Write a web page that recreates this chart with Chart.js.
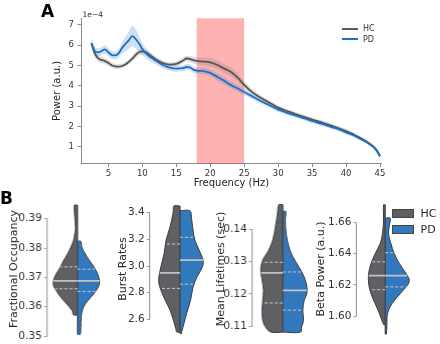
<!DOCTYPE html>
<html><head><meta charset="utf-8">
<script src="https://cdn.jsdelivr.net/npm/chart.js@4.4.1/dist/chart.umd.min.js"></script>
<style>
html,body{margin:0;padding:0;background:#fff;}
body{width:440px;height:344px;position:relative;overflow:hidden;font-family:"DejaVu Sans",sans-serif;color:#262626;}
canvas{position:absolute;display:block;}
.t{position:absolute;white-space:nowrap;line-height:1;}
.sw{position:absolute;}
</style></head><body>
<canvas id="cA" width="440" height="200" style="left:0;top:0;width:440px;height:200px"></canvas>
<canvas id="cV1"></canvas>
<canvas id="cV2"></canvas>
<canvas id="cV3"></canvas>
<canvas id="cV4"></canvas>
<div class="t" style="left:41px;top:3px;font-size:17px;font-weight:bold;color:#000">A</div>
<div class="t" style="left:0px;top:189.5px;font-size:17px;font-weight:bold;color:#000">B</div>
<div class="t" style="left:82.5px;top:11.4px;font-size:7.5px;color:#333">1e−4</div>
<div class="sw" style="left:342px;top:28px;width:16px;height:2px;background:#5a5a5a"></div>
<div class="t" style="left:363px;top:25.2px;font-size:8px;color:#333">HC</div>
<div class="sw" style="left:342px;top:38px;width:16px;height:2px;background:#1f6fc2"></div>
<div class="t" style="left:363px;top:35.5px;font-size:8px;color:#333">PD</div>
<div class="sw" style="left:392px;top:209px;width:22px;height:9px;background:#5f6064;border:0.5px solid #444;box-sizing:border-box"></div>
<div class="t" style="left:420.5px;top:208px;font-size:11px;color:#262626">HC</div>
<div class="sw" style="left:392px;top:224.5px;width:22px;height:9px;background:#3278bd;border:0.5px solid #444;box-sizing:border-box"></div>
<div class="t" style="left:420.5px;top:223.7px;font-size:11px;color:#262626">PD</div>
<script>
// ---------- Panel A data ----------
const freqHz = [2.5,3,3.5,4,4.5,5,5.5,6,6.5,7,7.5,8,8.5,9,9.5,10,10.5,11,11.5,12,13,14,15,16,16.5,17,17.5,18,19,20,21,22,23,24,25,26,27,28,29,30,31,32,33,34,35,36,37,38,39,40,41,42,43,44,44.5,45];
const hcPower = [6.10,5.60,5.36,5.28,5.22,5.13,5.02,4.96,4.95,4.98,5.05,5.18,5.33,5.52,5.66,5.70,5.66,5.55,5.42,5.30,5.12,5.05,5.08,5.25,5.35,5.33,5.27,5.23,5.20,5.16,5.04,4.86,4.70,4.42,4.05,3.74,3.50,3.30,3.12,2.93,2.80,2.68,2.56,2.45,2.34,2.24,2.13,2.02,1.90,1.77,1.63,1.45,1.26,1.02,0.84,0.56];
const pdPower = [6.10,5.72,5.65,5.72,5.80,5.66,5.52,5.50,5.60,5.86,6.06,6.24,6.45,6.32,6.10,5.82,5.62,5.46,5.35,5.24,5.03,4.90,4.85,4.87,4.93,4.91,4.80,4.75,4.73,4.64,4.45,4.26,4.05,3.88,3.70,3.52,3.33,3.16,3.00,2.83,2.71,2.60,2.49,2.38,2.27,2.17,2.07,1.96,1.85,1.71,1.58,1.41,1.23,0.99,0.80,0.52];
const hcSem = [0.22,0.2,0.16,0.15,0.15,0.14,0.13,0.12,0.12,0.12,0.12,0.13,0.14,0.15,0.15,0.15,0.15,0.14,0.13,0.12,0.12,0.12,0.12,0.13,0.14,0.15,0.17,0.18,0.2,0.22,0.22,0.22,0.22,0.2,0.18,0.15,0.13,0.12,0.11,0.1,0.1,0.1,0.1,0.1,0.1,0.1,0.1,0.1,0.1,0.1,0.09,0.08,0.08,0.07,0.07,0.06];
const pdSem = [0.3,0.22,0.2,0.2,0.22,0.2,0.2,0.2,0.22,0.28,0.36,0.44,0.5,0.48,0.4,0.3,0.25,0.22,0.2,0.18,0.17,0.15,0.15,0.15,0.15,0.15,0.15,0.15,0.16,0.17,0.18,0.18,0.18,0.17,0.16,0.14,0.13,0.12,0.12,0.12,0.11,0.11,0.11,0.11,0.11,0.11,0.11,0.11,0.11,0.11,0.1,0.09,0.08,0.08,0.07,0.06];
const freqTicks = [5,10,15,20,25,30,35,40,45];
const powerTicks = [1,2,3,4,5,6,7];
const betaBand = [18,25];
const groupLabels = ['HC','PD'];

// ---------- Panel B data ----------
const v1HcVals = [0.3946,0.3906,0.3871,0.3849,0.3826,0.3803,0.3780,0.3757,0.3734,0.3712,0.3689,0.3672,0.3655,0.3632,0.3609,0.3586,0.3572];
const v1HcWidths = [3.0,2.7,2.0,2.7,4.0,6.7,10,14,17.3,21.3,24,24,21.3,16.7,10.7,5.3,4];
const v1PdVals = [0.3823,0.3803,0.3780,0.3757,0.3734,0.3712,0.3689,0.3672,0.3655,0.3632,0.3609,0.3586,0.3563,0.3529,0.3506];
const v1PdWidths = [3.3,4.3,7.7,12,16.7,20,22,21.3,18.7,13.3,7.7,4.7,3.7,3.3,2.7];
const v1HcQuart = [0.3661,0.3688,0.3736];
const v1PdQuart = [0.3652,0.3688,0.3728];
const v1Ticks = [0.35,0.36,0.37,0.38,0.39];
const v1TickLabels = ['0.35','0.36','0.37','0.38','0.39'];

const v2HcVals = [3.450,3.396,3.295,3.195,3.095,2.994,2.919,2.869,2.819,2.744,2.668,2.593,2.531,2.505];
const v2HcWidths = [6,7,10,14,16,19.3,21.3,21.3,19.3,15,10,6.7,4.3,3.3];
const v2PdVals = [3.415,3.370,3.295,3.195,3.120,3.044,2.994,2.919,2.844,2.744,2.644,2.568,2.505,2.493];
const v2PdWidths = [10,11.5,12.7,15,19.3,23.3,22.7,17.3,13.3,10.7,6.7,4,1.7,1.5];
const v2HcQuart = [2.832,2.949,3.165];
const v2PdQuart = [2.864,3.044,3.215];
const v2Ticks = [2.6,2.8,3.0,3.2,3.4];
const v2TickLabels = ['2.6','2.8','3.0','3.2','3.4'];

const v3HcVals = [0.1476,0.1450,0.1408,0.1367,0.1336,0.1305,0.1274,0.1243,0.1212,0.1180,0.1149,0.1118,0.1098,0.1082];
const v3HcWidths = [4,5.3,7.3,10,14,20,22,20.7,19.3,20,20.7,20,17.3,12];
const v3PdVals = [0.1455,0.1429,0.1388,0.1346,0.1315,0.1284,0.1253,0.1222,0.1201,0.1180,0.1149,0.1118,0.1098,0.1082];
const v3PdWidths = [3,2.5,3.3,6,10,16,21.3,24,24,21.3,20,20.7,18.7,17.7];
const v3HcQuart = [0.1172,0.1265,0.1298];
const v3PdQuart = [0.1150,0.1211,0.1268];
const v3Ticks = [0.11,0.12,0.13,0.14];
const v3TickLabels = ['0.11','0.12','0.13','0.14'];

const v4HcVals = [1.6711,1.6615,1.6529,1.6465,1.6401,1.6336,1.6272,1.6208,1.6143,1.6079,1.6015,1.5972,1.5946];
const v4HcWidths = [1.7,1.7,2.7,5,10,14.3,16.7,16.7,14.3,10,5.7,3.3,1.5];
const v4PdVals = [1.6626,1.6583,1.6529,1.6465,1.6401,1.6336,1.6272,1.6229,1.6197,1.6143,1.6079,1.6015,1.5951,1.5886];
const v4PdWidths = [5,4.3,3.3,5.7,9,14.3,21,24.3,22.3,15,6.7,2.3,1.7,1.2];
const v4HcQuart = [1.6169,1.6259,1.6347];
const v4PdQuart = [1.6187,1.6259,1.6405];
const v4Ticks = [1.60,1.62,1.64,1.66];
const v4TickLabels = ['1.60','1.62','1.64','1.66'];

// ---------- styles ----------
Chart.defaults.font.family = '"DejaVu Sans", sans-serif';
Chart.defaults.color = '#262626';
const HC_LINE = '#555555', PD_LINE = '#1f6fc2';
const HC_FILL = '#5f6064', PD_FILL = '#3278bd', EDGE = '#3a3a3a';
const SPINE = '#8c8c8c';

const spanPlugin = {
  id: 'betaSpan',
  beforeDatasetsDraw(chart) {
    const {ctx, chartArea: a, scales: {x}} = chart;
    const x1 = x.getPixelForValue(betaBand[0]), x2 = x.getPixelForValue(betaBand[1]);
    ctx.save();
    ctx.fillStyle = 'rgba(255,0,0,0.3)';
    ctx.fillRect(x1, a.top, x2 - x1, a.bottom - a.top);
    ctx.restore();
  }
};

const pts = (ys) => freqHz.map((f, i) => ({x: f, y: ys[i]}));
const hcUp = hcPower.map((v, i) => v + hcSem[i]);
const hcLo = hcPower.map((v, i) => v - hcSem[i]);
const pdUp = pdPower.map((v, i) => v + pdSem[i]);
const pdLo = pdPower.map((v, i) => v - pdSem[i]);
const noLine = {borderWidth: 0, borderColor: 'rgba(0,0,0,0)', pointRadius: 0};

new Chart(document.getElementById('cA'), {
  type: 'line',
  data: {datasets: [
    Object.assign({data: pts(hcUp), fill: '+1', backgroundColor: 'rgba(120,120,120,0.25)', order: 3}, noLine),
    Object.assign({data: pts(hcLo), fill: false, order: 3}, noLine),
    Object.assign({data: pts(pdUp), fill: '+1', backgroundColor: 'rgba(45,125,205,0.23)', order: 2}, noLine),
    Object.assign({data: pts(pdLo), fill: false, order: 2}, noLine),
    {label: groupLabels[0], data: pts(hcPower), borderColor: HC_LINE, borderWidth: 1.8, pointRadius: 0, fill: false, order: 1},
    {label: groupLabels[1], data: pts(pdPower), borderColor: PD_LINE, borderWidth: 1.8, pointRadius: 0, fill: false, order: 0}
  ]},
  options: {
    responsive: false, animation: false,
    layout: {padding: {left: 0, right: 58.3, top: 18.3, bottom: 6.4}},
    plugins: {legend: {display: false}, tooltip: {enabled: false}},
    elements: {line: {cubicInterpolationMode: 'monotone'}, point: {radius: 0}},
    scales: {
      x: {
        type: 'linear', min: 0.97, max: 45.25,
        afterBuildTicks: s => { s.ticks = freqTicks.map(v => ({value: v})); },
        afterFit: s => { s.height = 30; },
        grid: {display: true, drawOnChartArea: false, drawTicks: true, tickLength: 3.5, color: SPINE},
        border: {display: true, color: SPINE, width: 1},
        ticks: {font: {size: 8.5}, padding: 2, maxRotation: 0, color: '#333', autoSkip: false},
        title: {display: true, text: 'Frequency (Hz)', font: {size: 10}, padding: {top: 0, bottom: 4.3}, color: '#262626'}
      },
      y: {
        type: 'linear', min: 0.17, max: 7.33,
        afterBuildTicks: s => { s.ticks = powerTicks.map(v => ({value: v})); },
        afterFit: s => { s.width = 81; },
        grid: {display: true, drawOnChartArea: false, drawTicks: true, tickLength: 3.5, color: SPINE},
        border: {display: true, color: SPINE, width: 1},
        ticks: {font: {size: 8.5}, padding: 3.5, color: '#333'},
        title: {display: true, text: 'Power (a.u.)', font: {size: 10}, padding: {top: 51, bottom: 0}, color: '#262626'}
      }
    }
  },
  plugins: [spanPlugin]
});

// ---------- violins ----------
function widthAt(vals, widths, q) {
  for (let i = 0; i < vals.length - 1; i++) {
    const a = vals[i], b = vals[i + 1];
    if (q <= a && q >= b) { const t = (a - q) / (a - b); return widths[i] + t * (widths[i + 1] - widths[i]); }
  }
  return 0;
}
const trimSpine = {
  id: 'trimSpine',
  afterDraw(chart) {
    const {ctx, chartArea: a, scales: {y}} = chart;
    const t = y.ticks;
    const p1 = y.getPixelForValue(t[0].value), p2 = y.getPixelForValue(t[t.length - 1].value);
    ctx.save();
    ctx.strokeStyle = '#a0a0a0'; ctx.lineWidth = 1.2;
    ctx.beginPath(); ctx.moveTo(a.left, p1); ctx.lineTo(a.left, p2); ctx.stroke();
    ctx.restore();
  }
};
function violin(id, o) {
  const cv = document.getElementById(id);
  const W = o.axisW, cw = W + 60, ch = 158;
  cv.width = cw; cv.height = ch;
  cv.style.left = (o.axisX - W) + 'px'; cv.style.top = '190px';
  cv.style.width = cw + 'px'; cv.style.height = ch + 'px';
  const half = (vals, widths, sign) => [{x: 0, y: vals[0]}].concat(vals.map((v, i) => ({x: sign * widths[i], y: v})), [{x: 0, y: vals[vals.length - 1]}]);
  const qLines = (vals, widths, quart, sign) => quart.map((q, k) => ({
    data: [{x: 0, y: q}, {x: sign * widthAt(vals, widths, q), y: q}],
    borderColor: k === 1 ? '#c2c2c2' : '#c9c9c9', borderWidth: k === 1 ? 1.8 : 1,
    borderDash: k === 1 ? [] : [3, 2], pointRadius: 0, fill: false, order: 0, tension: 0
  }));
  const top = Math.max(o.hcV[0], o.pdV[0]);
  const bot = Math.min(o.hcV[o.hcV.length - 1], o.pdV[o.pdV.length - 1]);
  const datasets = [].concat(
    qLines(o.hcV, o.hcW, o.hcQ, -1),
    qLines(o.pdV, o.pdW, o.pdQ, 1),
    [{data: [{x: 0, y: top}, {x: 0, y: bot}], borderColor: EDGE, borderWidth: 1.1, pointRadius: 0, fill: false, order: 1, tension: 0}],
    [{label: groupLabels[0], data: half(o.hcV, o.hcW, -1), fill: 'shape', backgroundColor: HC_FILL, borderColor: EDGE, borderWidth: 1, pointRadius: 0, tension: 0.35, order: 2}],
    [{label: groupLabels[1], data: half(o.pdV, o.pdW, 1), fill: 'shape', backgroundColor: PD_FILL, borderColor: EDGE, borderWidth: 1, pointRadius: 0, tension: 0.35, order: 2}]
  );
  new Chart(cv, {
    type: 'line',
    data: {datasets},
    options: {
      responsive: false, animation: false,
      layout: {padding: {left: 0, right: 0, top: 10, bottom: 10}},
      plugins: {legend: {display: false}, tooltip: {enabled: false}},
      elements: {point: {radius: 0}},
      scales: {
        x: {type: 'linear', display: false, min: o.xMin, max: o.xMin + 60},
        y: {
          type: 'linear', min: o.yMin, max: o.yMax,
          afterBuildTicks: s => { s.ticks = o.ticks.map(v => ({value: v})); },
          afterFit: s => { s.width = W; },
          grid: {display: true, drawOnChartArea: false, drawTicks: true, tickLength: 3, color: '#a0a0a0'},
          border: {display: false},
          ticks: {font: {size: 10.5}, padding: 2, color: '#333', callback: (v, i) => o.labels[i]},
          title: {display: true, text: o.title, font: {size: 11}, padding: {top: 0, bottom: 0}, color: '#262626'}
        }
      }
    },
    plugins: [trimSpine]
  });
}
violin('cV1', {hcV: v1HcVals, hcW: v1HcWidths, pdV: v1PdVals, pdW: v1PdWidths, hcQ: v1HcQuart, pdQ: v1PdQuart,
  ticks: v1Ticks, labels: v1TickLabels, yMin: 0.34932, yMax: 0.39638, title: 'Fractional Occupancy', axisX: 47, axisW: 38.6, xMin: -30.5});
violin('cV2', {hcV: v2HcVals, hcW: v2HcWidths, pdV: v2PdVals, pdW: v2PdWidths, hcQ: v2HcQuart, pdQ: v2PdQuart,
  ticks: v2Ticks, labels: v2TickLabels, yMin: 2.4597, yMax: 3.4953, title: 'Burst Rates', axisX: 149.3, axisW: 32.6, xMin: -30.7});
violin('cV3', {hcV: v3HcVals, hcW: v3HcWidths, pdV: v3PdVals, pdW: v3PdWidths, hcQ: v3HcQuart, pdQ: v3PdQuart,
  ticks: v3Ticks, labels: v3TickLabels, yMin: 0.10638, yMax: 0.14906, title: 'Mean Lifetimes (sec)', axisX: 251.7, axisW: 36.6, xMin: -30.8});
violin('cV4', {hcV: v4HcVals, hcW: v4HcWidths, pdV: v4PdVals, pdW: v4PdWidths, hcQ: v4HcQuart, pdQ: v4PdQuart,
  ticks: v4Ticks, labels: v4TickLabels, yMin: 1.58609, yMax: 1.67417, title: 'Beta Power (a.u.)', axisX: 356.3, axisW: 41.4, xMin: -29});
</script>
</body></html>
